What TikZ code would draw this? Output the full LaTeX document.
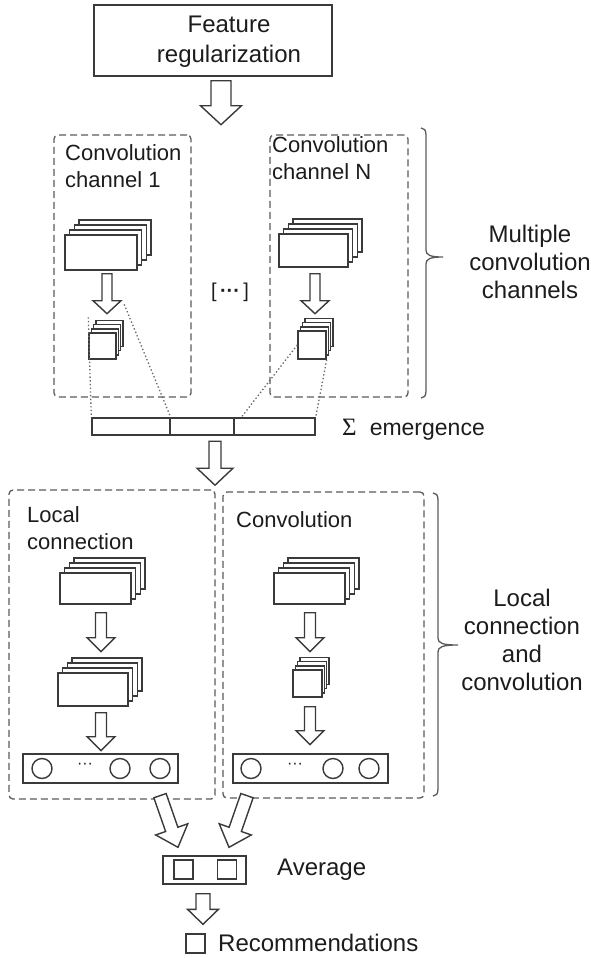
\documentclass[tikz,border=0pt]{standalone}
\usepackage{fontspec}
\setmainfont{Liberation Sans}
\newfontfamily\sigmafont{Liberation Serif}
\usetikzlibrary{calc,shadows}
\definecolor{lineC}{HTML}{3A3A3A}
\definecolor{dashC}{HTML}{5A5A5A}
\definecolor{dotC}{HTML}{6A6A6A}
\definecolor{txtC}{HTML}{1C1C1C}
\begin{document}
\begin{tikzpicture}[x=1pt,y=-1pt,
  every node/.style={text=txtC},
  solidbox/.style={draw=lineC, line width=1.4pt, fill=white, inner sep=0pt},
  dbox/.style={draw=dashC, line width=1.3pt, dash pattern=on 7pt off 4pt,
    rounded corners=4pt, inner sep=0pt},
  layer/.style={draw=lineC, fill=white, line width=1.4pt},
  bigstack/.style 2 args={solidbox, minimum width=#1, minimum height=#2,
    copy shadow={layer, shadow xshift=13.8pt, shadow yshift=15pt},
    copy shadow={layer, shadow xshift=9.2pt, shadow yshift=10pt},
    copy shadow={layer, shadow xshift=4.6pt, shadow yshift=5pt}},
  smallstack/.style 2 args={solidbox, minimum width=#1, minimum height=#2,
    copy shadow={layer, shadow xshift=6.9pt, shadow yshift=12.6pt},
    copy shadow={layer, shadow xshift=4.6pt, shadow yshift=8.4pt},
    copy shadow={layer, shadow xshift=2.3pt, shadow yshift=4.2pt}},
  circ/.style={circle, draw=lineC, line width=1.4pt, minimum size=20, inner sep=0pt},
  sq/.style={solidbox, minimum size=19},
  dotline/.style={draw=dotC, line width=1.3pt, dash pattern=on 1.4pt off 2.3pt},
  bracestyle/.style={draw=dashC, line width=1.3pt},
  boxtitle/.style={font=\fontsize{22}{27}\selectfont, inner sep=0pt},
  sidelabel/.style={font=\fontsize{24}{28}\selectfont, inner sep=0pt, align=center},
  % hollow block arrow: shaft half-width, head half-width, head length
  harrow/.style n args={3}{draw=lineC, fill=white, line width=1.4pt, line join=miter,
    to path={
      ($(\tikztotarget)!#3!(\tikztostart)$) coordinate (bahead)
      ($(\tikztostart)!#1!90:(\tikztotarget)$)
      -- ($(bahead)!#1!90:(\tikztotarget)$)
      -- ($(bahead)!#2!90:(\tikztotarget)$)
      -- (\tikztotarget)
      -- ($(bahead)!#2!-90:(\tikztotarget)$)
      -- ($(bahead)!#1!-90:(\tikztotarget)$)
      -- ($(\tikztostart)!#1!-90:(\tikztotarget)$)
      -- cycle}}
]
\useasboundingbox (0,0) rectangle (590,958);

% ---------- input ----------
\node[solidbox, minimum width=238, minimum height=71] (fr) at (213,40.5) {};
\node[font=\fontsize{24}{30}\selectfont, align=center, inner sep=0pt] (frt) at (229,42) {Feature\\regularization};
\draw[harrow={10pt}{20.5pt}{19pt}] ($(fr.south)+(8,4)$) to ($(fr.south)+(8,48)$);

% ---------- convolution channels ----------
\node[dbox, minimum width=137, minimum height=262] (c1) at (122.5,266) {};
\node[dbox, minimum width=138, minimum height=262] (cN) at (339,266) {};
\node[boxtitle, anchor=west, align=left] (c1t) at (65,166.5) {Convolution\\channel 1};
\node[boxtitle, anchor=west, align=left] (cNt) at (272,158.5) {Convolution\\channel N};

\node[bigstack={72}{35}] (st1) at (101,252.5) {};
\node[bigstack={69}{33}] (stN) at (313.5,250.5) {};
\node[smallstack={27}{26}] (sq1) at (102.5,346) {};
\node[smallstack={28}{28}] (sqN) at (312,345) {};

\draw[harrow={5pt}{14pt}{13pt}] ($(st1.south)+(6,3)$) to ($(st1.south)+(6,43)$);
\draw[harrow={5pt}{14pt}{13pt}] ($(stN.south)+(1.5,6)$) to ($(stN.south)+(1.5,46)$);

\node[font=\fontsize{20}{24}\selectfont, inner sep=0pt] (more) at (230,292) {[\,\textbf{\textperiodcentered\textperiodcentered\textperiodcentered}\,]};

% ---------- merged feature bar ----------
\node[solidbox, minimum width=78, minimum height=17] (bar1) at (131,426.5) {};
\node[solidbox, minimum width=64, minimum height=17] (bar2) at (202,426.5) {};
\node[solidbox, minimum width=81, minimum height=17] (bar3) at (274.5,426.5) {};

\draw[dotline] ($(sq1.north west)+(0,-15)$) -- (bar1.north west);
\draw[dotline] ($(sq1.north east)+(7.5,-28)$) -- (bar1.north east);
\draw[dotline] (sqN.west) -- ($(bar3.north west)+(8,0)$);
\draw[dotline] (sqN.south east) -- (bar3.north east);

\node[font=\fontsize{23}{27}\selectfont, anchor=west, inner sep=0pt] (sum) at (342,430) {{\sigmafont\fontsize{25}{27}\selectfont Σ}\hspace{13pt}emergence};

% brace: convolution channels
\draw[bracestyle] (421,128) .. controls (424,128) and (426,130) .. (426,135)
  -- (426,250) .. controls (426,255) and (430,257) .. (443,257)
  .. controls (430,257) and (426,259) .. (426,264)
  -- (426,391) .. controls (426,396) and (424,398) .. (421,398);
\node[sidelabel] (mcc) at (530,262) {Multiple\\convolution\\channels};

\draw[harrow={6pt}{18pt}{17pt}] ($(bar2.south)+(13,5.5)$) to ($(bar2.south)+(13,49.5)$);

% ---------- local connection and convolution ----------
\node[dbox, minimum width=206, minimum height=309] (lc) at (112,644.5) {};
\node[dbox, minimum width=201, minimum height=306] (cv) at (323.5,645) {};
\node[boxtitle, anchor=west, align=left] (lct) at (27,528.5) {Local\\connection};
\node[boxtitle, anchor=west] (cvt) at (236,520) {Convolution};

\node[bigstack={71}{31}] (ls1) at (95.5,588.5) {};
\node[bigstack={70}{33}] (ls2) at (93,689.5) {};
\draw[harrow={5.5pt}{14pt}{14pt}] ($(ls1.south)+(5.5,8)$) to ($(ls1.south)+(5.5,47)$);
\draw[harrow={5.5pt}{14pt}{14pt}] ($(ls2.south)+(8,6)$) to ($(ls2.south)+(8,44)$);

\node[solidbox, minimum width=155, minimum height=29] (cb1) at (100.5,768.5) {};
\node[circ] (cb1a) at (42,768.5) {};
\node[circ] (cb1b) at (120,768.5) {};
\node[circ] (cb1c) at (160,768.5) {};
\node[font=\fontsize{16}{18}\selectfont, inner sep=0pt] (cb1d) at (85,766) {\textperiodcentered\textperiodcentered\textperiodcentered};

\node[bigstack={71}{31}] (rs1) at (309.5,588.5) {};
\node[smallstack={29}{27}] (rsq) at (307.5,683.5) {};
\draw[harrow={5.5pt}{14pt}{14pt}] ($(rs1.south)+(0.5,8)$) to ($(rs1.south)+(0.5,47)$);
\draw[harrow={5.5pt}{14pt}{14pt}] ($(rsq.south)+(2.5,9)$) to ($(rsq.south)+(2.5,47)$);

\node[solidbox, minimum width=155, minimum height=29] (cb2) at (310.5,768.5) {};
\node[circ] (cb2a) at (251,768.5) {};
\node[circ] (cb2b) at (333,768.5) {};
\node[circ] (cb2c) at (369,768.5) {};
\node[font=\fontsize{16}{18}\selectfont, inner sep=0pt] (cb2d) at (295,766) {\textperiodcentered\textperiodcentered\textperiodcentered};

% brace: local connection and convolution
\draw[bracestyle] (433,493) .. controls (436,493) and (438,495) .. (438,500)
  -- (438,638) .. controls (438,643) and (442,645) .. (458,645)
  .. controls (442,645) and (438,647) .. (438,652)
  -- (438,789) .. controls (438,794) and (436,796) .. (433,796);
\node[sidelabel] (lcc) at (522,640) {Local\\connection\\and\\convolution};

% ---------- average and output ----------
\node[solidbox, minimum width=83, minimum height=28] (avg) at (204.5,870) {};
\node[sq] (avgA) at (183.5,869.5) {};
\node[sq] (avgB) at (227,869.5) {};
\node[font=\fontsize{24}{28}\selectfont, anchor=west, inner sep=0pt] (avgt) at (277,870) {Average};

\draw[harrow={6.5pt}{17pt}{19pt}] ($(lc.south)+(48,-4)$) to ($(avg.north)+(-26.5,-8)$);
\draw[harrow={6.5pt}{17pt}{19pt}] ($(cv.south)+(-76.5,-3)$) to ($(avg.north)+(24.5,-8)$);

\node[sq] (rec) at (195.5,943.5) {};
\draw[harrow={7pt}{15.5pt}{15pt}] ($(avg.south)+(-1.5,9)$) to ($(rec.north)+(7.5,-9)$);
\node[font=\fontsize{24}{28}\selectfont, anchor=west, inner sep=0pt] (rect) at (218,943) {Recommendations};
\end{tikzpicture}
\end{document}
